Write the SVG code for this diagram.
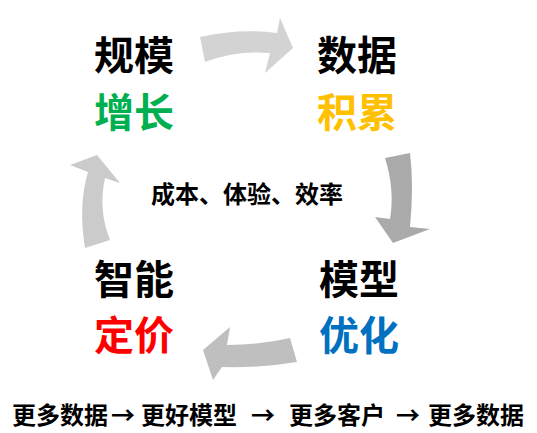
<svg xmlns="http://www.w3.org/2000/svg" width="537" height="433" viewBox="0 0 537 433">
<style>
text{font-family:"Noto Sans CJK SC","Noto Sans",sans-serif;font-weight:700}
.big{font-size:40px}
.mid{font-size:24px;fill:#000}
.bot{font-size:24px;fill:#000}
.arr{text-anchor:middle}
.k{fill:#000}
</style>
<rect width="537" height="433" fill="#fff"/>
<g id="connectors">
<path d="M200,37 Q240,28 277,33 L280,18 L293,48 L265,73 L270,53 Q235,50 205,62 Z" fill="#D3D3D3"/>
<path d="M385,158 Q395,190 390,219 L375,217 L393,243 L430,229 L410,227 Q414,185 410,153 Z" fill="#AAAAAA"/>
<path d="M290,338 Q260,345 227,345 L230,327 L203,350 L213,380 L222,367 Q262,368 297,362 Z" fill="#BFBFBF"/>
<path d="M85,248 Q78,205 88,172 L70,165 L97,155 L120,183 L105,178 Q98,210 110,240 Z" fill="#CBCBCB"/>
</g>
<g id="node-scale">
<text class="big k" x="94" y="70">规模</text>
<text class="big" x="94" y="127" fill="#00B050">增长</text>
</g>
<g id="node-data">
<text class="big k" x="317" y="70">数据</text>
<text class="big" x="317" y="127" fill="#FFC000">积累</text>
</g>
<g id="node-model">
<text class="big k" x="319" y="294">模型</text>
<text class="big" x="319" y="350" fill="#0070C0">优化</text>
</g>
<g id="node-pricing">
<text class="big k" x="94" y="294">智能</text>
<text class="big" x="94" y="350" fill="#FF0000">定价</text>
</g>
<g id="center">
<text class="mid" x="151" y="203">成本、体验、效率</text>
</g>
<g id="footer">
<text class="bot" x="12" y="424">更多数据</text>
<text class="bot arr" x="123" y="424">→</text>
<text class="bot" x="141" y="424">更好模型</text>
<text class="bot arr" x="263" y="424">→</text>
<text class="bot" x="289" y="424">更多客户</text>
<text class="bot arr" x="408" y="424">→</text>
<text class="bot" x="428" y="424">更多数据</text>
</g>
</svg>
